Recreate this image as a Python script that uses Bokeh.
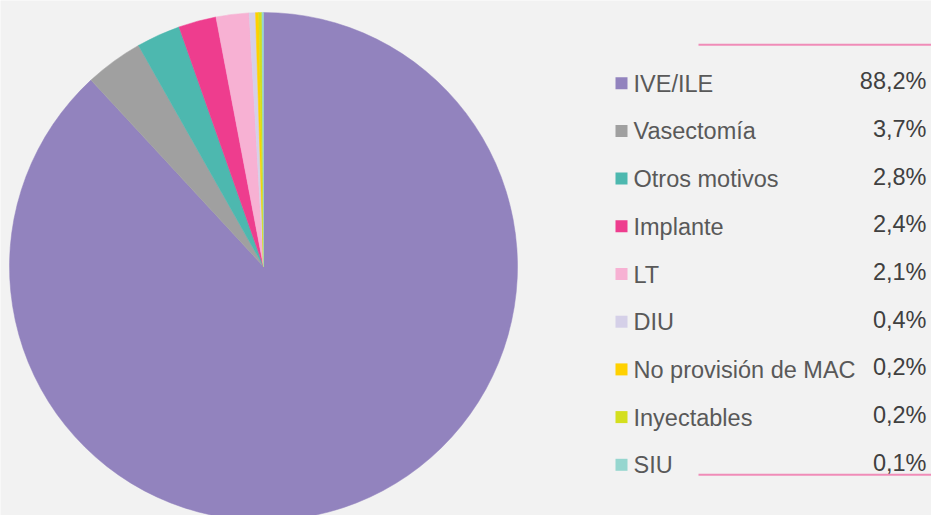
import math
from bokeh.plotting import figure
from bokeh.models import Range1d, ColumnDataSource
from bokeh.core.properties import value
from bokeh.embed import file_html
from bokeh.resources import INLINE

categories = ["IVE/ILE", "Vasectomía", "Otros motivos", "Implante", "LT", "DIU",
              "No provisión de MAC", "Inyectables", "SIU"]
values = [88.2, 3.7, 2.8, 2.4, 2.1, 0.4, 0.2, 0.2, 0.1]
value_labels = ["88,2%", "3,7%", "2,8%", "2,4%", "2,1%", "0,4%", "0,2%", "0,2%", "0,1%"]
colors = ["#9283BE", "#A0A0A0", "#4DB8AF", "#EE3D8E", "#F7B1D3", "#D5D0E8",
          "#FFD100", "#D4DF1E", "#96D6CF"]

W, H = 931, 515
BG = "#F2F2F2"

total = sum(values)
starts, ends = [], []
cum = 0.0
for v in values:
    starts.append(math.pi / 2 - 2 * math.pi * cum / total)
    cum += v
    ends.append(math.pi / 2 - 2 * math.pi * cum / total)

p = figure(width=W, height=H, output_backend="svg", toolbar_location=None,
           x_range=Range1d(0, W), y_range=Range1d(0, H), min_border=0)
p.axis.visible = False
p.grid.visible = False
p.outline_line_color = None
p.background_fill_color = BG
p.border_fill_color = BG

pie = ColumnDataSource(dict(start=starts, end=ends, color=colors))
p.wedge(x=263, y=249, radius=254, radius_units="screen", start_angle="start",
        end_angle="end", direction="clock", fill_color="color", line_color="color",
        line_width=0.5, source=pie)

n = len(categories)
rows = [515 - (82.7 + 47.7 * i) for i in range(n)]
leg = ColumnDataSource(dict(
    sx=[621] * n, sy=rows, lx=[633] * n, ly=[r - 0.5 for r in rows],
    vx=[926] * n, vy=[r + 2.0 for r in rows],
    cat=categories, val=value_labels, color=colors))

p.scatter("sx", "sy", marker="square", size=12, fill_color="color",
          line_color=None, source=leg)
p.text("lx", "ly", text="cat", text_font=value("Liberation Sans"),
       text_font_size="23.5px", text_color="#595959", text_baseline="middle",
       source=leg)
p.text("vx", "vy", text="val", text_font=value("Liberation Sans"),
       text_font_size="23.5px", text_color="#404040", text_baseline="middle",
       text_align="right", source=leg)

p.segment(x0=[698, 698], y0=[470.7, 40.7], x1=[931, 931], y1=[470.7, 40.7],
          line_color="#F08CB8", line_width=2)

html = file_html(p, INLINE)
html = html.replace("<body>", '<body style="background:%s">' % BG, 1)
open("out.html", "w").write(html)
